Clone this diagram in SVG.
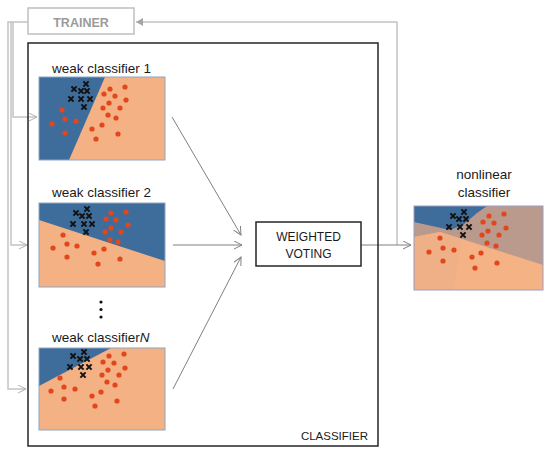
<svg xmlns="http://www.w3.org/2000/svg" xmlns:xlink="http://www.w3.org/1999/xlink" width="550" height="454" viewBox="0 0 550 454">
<style>
text{font-family:"Liberation Sans",Arial,sans-serif;}
.lbl{font-size:13.5px;fill:#1a1a1a;}
.cap{font-size:12px;fill:#1a1a1a;text-anchor:middle;}
.blue{fill:#3F6D9B;}
.org{fill:#F4B183;}
.frame{fill:none;stroke:#8FA6C4;stroke-width:1;}
.ln{fill:none;stroke:#808080;stroke-width:1;}
.fb{fill:none;stroke:#C4C4C4;stroke-width:1.5;}
</style>
<defs>
<marker id="ah" markerWidth="10" markerHeight="10" refX="8" refY="4" orient="auto" markerUnits="userSpaceOnUse"><path d="M0,0 L8,4 L0,8" fill="none" stroke="#808080" stroke-width="1"/></marker>
<marker id="ahl" markerWidth="10" markerHeight="10" refX="8" refY="4" orient="auto" markerUnits="userSpaceOnUse"><path d="M0,0 L8,4 L0,8" fill="none" stroke="#B0B0B0" stroke-width="1"/></marker>
<marker id="ahf" markerWidth="10" markerHeight="10" refX="7" refY="4" orient="auto" markerUnits="userSpaceOnUse"><path d="M0,0 L7,4 L0,8 Z" fill="#A6A6A6"/></marker>
<g id="x"><path d="M-2.6,-2.6 L2.6,2.6 M-2.6,2.6 L2.6,-2.6" stroke="#111" stroke-width="2"/></g>
<circle id="d" r="2.6" fill="#E2461D"/>
</defs>

<g id="connectors">
<path class="fb" d="M28,22 H8 V389 H26" marker-end="url(#ahl)"/>
<path class="fb" d="M11,22 V245 H27" marker-end="url(#ahl)"/>
<path class="fb" d="M13,22 V117 H37" marker-end="url(#ahl)"/>
<path class="fb" d="M397,245 V22 H136" marker-end="url(#ahf)"/>
<path class="ln" d="M172,117 L241,235" marker-end="url(#ah)"/>
<path class="ln" d="M173,245 L242,245" marker-end="url(#ah)"/>
<path class="ln" d="M173,389 L241,257" marker-end="url(#ah)"/>
<path class="ln" d="M361,245 L411,245" marker-end="url(#ah)"/>
</g>

<g id="trainer">
<rect x="28" y="8" width="106" height="26" fill="none" stroke="#BFBFBF" stroke-width="1.5"/>
<text x="81" y="27" font-size="12.5" font-weight="bold" fill="#9A9A9A" text-anchor="middle">TRAINER</text>
</g>

<g id="classifier">
<rect x="28" y="43" width="350" height="403" fill="none" stroke="#262626" stroke-width="1.5"/>
<text x="368" y="440" font-size="11.5" fill="#1a1a1a" text-anchor="end">CLASSIFIER</text>
</g>

<g id="weak1">
<text class="lbl" x="52" y="73">weak classifier 1</text>
<rect class="org" x="39" y="77" width="126" height="83"/>
<polygon class="blue" points="39,77 105,77 69,160 39,160"/>
<rect class="frame" x="39" y="77" width="126" height="83"/>
<use href="#x" x="86" y="84"/><use href="#x" x="74" y="89"/><use href="#x" x="81" y="91"/><use href="#x" x="87" y="91"/>
<use href="#x" x="71" y="99"/><use href="#x" x="81" y="99"/><use href="#x" x="90" y="99"/><use href="#x" x="84" y="107"/>
<use href="#d" x="62" y="110"/><use href="#d" x="52" y="124"/><use href="#d" x="65" y="119"/><use href="#d" x="76" y="121"/>
<use href="#d" x="65" y="133"/><use href="#d" x="110" y="89"/><use href="#d" x="125" y="87"/><use href="#d" x="104" y="94"/>
<use href="#d" x="115" y="96"/><use href="#d" x="126" y="100"/><use href="#d" x="109" y="103"/><use href="#d" x="103" y="108"/>
<use href="#d" x="120" y="108"/><use href="#d" x="108" y="115"/><use href="#d" x="116" y="118"/><use href="#d" x="102" y="125"/>
<use href="#d" x="92" y="129"/><use href="#d" x="118" y="134"/><use href="#d" x="96" y="139"/>
</g>

<g id="weak2">
<text class="lbl" x="52" y="197">weak classifier 2</text>
<rect class="org" x="39" y="203" width="126" height="84"/>
<polygon class="blue" points="39,203 165,203 165,261 39,220"/>
<rect class="frame" x="39" y="203" width="126" height="84"/>
<use href="#x" x="87" y="209"/><use href="#x" x="76" y="213"/><use href="#x" x="82" y="216"/><use href="#x" x="89" y="216"/>
<use href="#x" x="73" y="224"/><use href="#x" x="84" y="224"/><use href="#x" x="92" y="224"/><use href="#x" x="86" y="232"/>
<use href="#d" x="111" y="213"/><use href="#d" x="126" y="212"/><use href="#d" x="106" y="219"/><use href="#d" x="116" y="220"/>
<use href="#d" x="128" y="225"/><use href="#d" x="111" y="228"/><use href="#d" x="105" y="232"/><use href="#d" x="121" y="232"/>
<use href="#d" x="110" y="240"/><use href="#d" x="118" y="242"/><use href="#d" x="63" y="235"/><use href="#d" x="67" y="244"/>
<use href="#d" x="77" y="246"/><use href="#d" x="53" y="248"/><use href="#d" x="104" y="249"/><use href="#d" x="94" y="253"/>
<use href="#d" x="67" y="257"/><use href="#d" x="120" y="259"/><use href="#d" x="98" y="264"/>
</g>

<g id="ellipsis" fill="#111">
<circle cx="101" cy="302" r="1.6"/><circle cx="101" cy="309.5" r="1.6"/><circle cx="101" cy="317" r="1.6"/>
</g>

<g id="weakN">
<text class="lbl" x="52" y="342">weak classifier<tspan font-style="italic">N</tspan></text>
<rect class="org" x="39" y="348" width="126" height="82"/>
<polygon class="blue" points="39,348 111,348 39,386"/>
<rect class="frame" x="39" y="348" width="126" height="82"/>
<use href="#x" x="84" y="352"/><use href="#x" x="73" y="356"/><use href="#x" x="80" y="359"/><use href="#x" x="87" y="359"/>
<use href="#x" x="70" y="367"/><use href="#x" x="81" y="367"/><use href="#x" x="89" y="367"/><use href="#x" x="83" y="375"/>
<use href="#d" x="109" y="356"/><use href="#d" x="124" y="354"/><use href="#d" x="103" y="362"/><use href="#d" x="114" y="363"/>
<use href="#d" x="125" y="368"/><use href="#d" x="108" y="370"/><use href="#d" x="102" y="375"/><use href="#d" x="119" y="375"/>
<use href="#d" x="60" y="378"/><use href="#d" x="107" y="382"/><use href="#d" x="115" y="385"/><use href="#d" x="64" y="387"/>
<use href="#d" x="75" y="389"/><use href="#d" x="51" y="391"/><use href="#d" x="101" y="392"/><use href="#d" x="92" y="396"/>
<use href="#d" x="64" y="399"/><use href="#d" x="117" y="401"/><use href="#d" x="95" y="406"/>
</g>

<g id="voting">
<rect x="256" y="222" width="105" height="44" fill="#fff" stroke="#262626" stroke-width="1.5"/>
<text class="cap" x="308.5" y="241">WEIGHTED</text>
<text class="cap" x="308.5" y="258">VOTING</text>
</g>

<g id="nonlinear">
<text class="lbl" x="484" y="179" text-anchor="middle">nonlinear</text>
<text class="lbl" x="484" y="197" text-anchor="middle">classifier</text>
<rect x="414" y="206" width="129" height="84" fill="#BA9A8C"/>
<polygon fill="#F5B285" points="414,237 440,232 462,239 543,265 543,290 414,290"/>
<polygon fill="#EFAF87" points="414,237 440,232 462,239 453,290 414,290"/>
<polygon class="blue" points="414,206 487,206 477,213 463,225 450,230 414,222"/>
<rect x="414" y="206" width="129" height="84" fill="none" stroke="#9C9CC0" stroke-width="1"/>
<use href="#x" x="464" y="212"/><use href="#x" x="453" y="216"/><use href="#x" x="459" y="219"/><use href="#x" x="466" y="219"/>
<use href="#x" x="449" y="227"/><use href="#x" x="460" y="227"/><use href="#x" x="469" y="227"/><use href="#x" x="463" y="235"/>
<use href="#d" x="489" y="216"/><use href="#d" x="504" y="214"/><use href="#d" x="483" y="222"/><use href="#d" x="494" y="223"/>
<use href="#d" x="506" y="228"/><use href="#d" x="488" y="231"/><use href="#d" x="482" y="235"/><use href="#d" x="499" y="235"/>
<use href="#d" x="487" y="243"/><use href="#d" x="496" y="246"/><use href="#d" x="440" y="238"/><use href="#d" x="443" y="248"/>
<use href="#d" x="454" y="250"/><use href="#d" x="429" y="252"/><use href="#d" x="481" y="253"/><use href="#d" x="472" y="257"/>
<use href="#d" x="443" y="261"/><use href="#d" x="497" y="263"/><use href="#d" x="475" y="268"/>
</g>
</svg>
